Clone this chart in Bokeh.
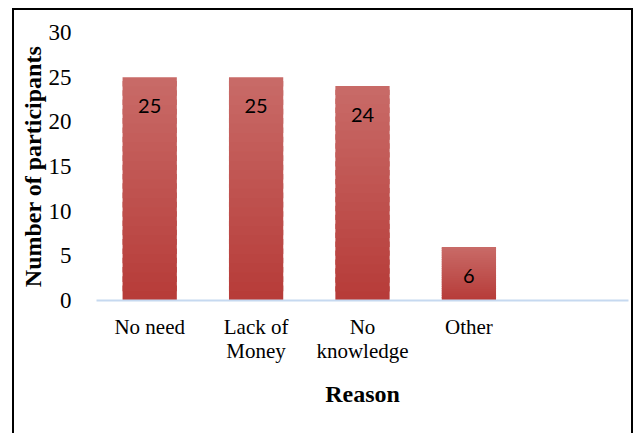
from bokeh.plotting import figure
from bokeh.models import FactorRange, Range1d, ColumnDataSource, SingleIntervalTicker
from bokeh.core.properties import value
from bokeh.embed import file_html
from bokeh.resources import INLINE

categories = ["No need", "Lack of\nMoney", "No\nknowledge", "Other", " "]
bar_categories = ["No need", "Lack of\nMoney", "No\nknowledge", "Other"]
counts = [25, 25, 24, 6]
x_title = "Reason"
y_title = "Number of participants"

top_rgb = (201, 108, 104)
bottom_rgb = (183, 59, 57)
N = 24

p = figure(width=621, height=425, x_range=FactorRange(*categories), y_range=Range1d(0, 30),
           output_backend="svg", toolbar_location=None,
           min_border_left=82, min_border_right=7, min_border_top=22, min_border_bottom=135)
p.styles = {"margin-left": "12px", "margin-top": "8px",
            "border-top": "2px solid black", "border-left": "2px solid black",
            "border-right": "2px solid black"}

# gradient bars: slices of each bar from its own value
xs, bots, tops, cols = [], [], [], []
for k in range(N):
    t = (k + 0.5) / N
    r = int(bottom_rgb[0] + (top_rgb[0] - bottom_rgb[0]) * t)
    g = int(bottom_rgb[1] + (top_rgb[1] - bottom_rgb[1]) * t)
    b = int(bottom_rgb[2] + (top_rgb[2] - bottom_rgb[2]) * t)
    c = "#%02x%02x%02x" % (r, g, b)
    for cat, v in zip(bar_categories, counts):
        xs.append(cat)
        bots.append(v * k / N)
        tops.append(v * min(k + 1.6, N) / N)
        cols.append(c)
src = ColumnDataSource(dict(x=xs, bottom=bots, top=tops, color=cols))
p.vbar(x="x", bottom="bottom", top="top", width=0.51, fill_color="color", line_color=None, source=src)

lab = ColumnDataSource(dict(x=bar_categories, y=counts, t=[str(v) for v in counts]))
p.text(x="x", y="y", text="t", source=lab, text_align="center", text_baseline="middle",
       y_offset=29, text_font=value("Lato"), text_font_size="20px", text_color="black")

p.xgrid.visible = False
p.ygrid.visible = False
p.outline_line_color = None

p.yaxis.ticker = SingleIntervalTicker(interval=5)
p.yaxis.axis_line_color = None
p.yaxis.major_tick_line_color = None
p.yaxis.minor_tick_line_color = None
p.yaxis.major_label_standoff = 19
p.yaxis.axis_label = y_title
p.yaxis.axis_label_standoff = 0

p.xaxis.axis_line_color = "#c6d9f0"
p.xaxis.axis_line_width = 2
p.xaxis.major_tick_line_color = None
p.xaxis.minor_tick_line_color = None
p.xaxis.major_label_standoff = 8
p.xaxis.major_label_text_line_height = 1.0
p.xaxis.axis_label = x_title
p.xaxis.axis_label_standoff = 15

for ax, fs in ((p.xaxis[0], "21px"), (p.yaxis[0], "23px")):
    ax.major_label_text_font = "Liberation Serif"
    ax.major_label_text_font_size = fs
    ax.major_label_text_color = "black"
    ax.axis_label_text_font = "Liberation Serif"
    ax.axis_label_text_font_size = "24px"
    ax.axis_label_text_font_style = "bold"
    ax.axis_label_text_color = "black"

open("out.html", "w").write(file_html(p, INLINE))
